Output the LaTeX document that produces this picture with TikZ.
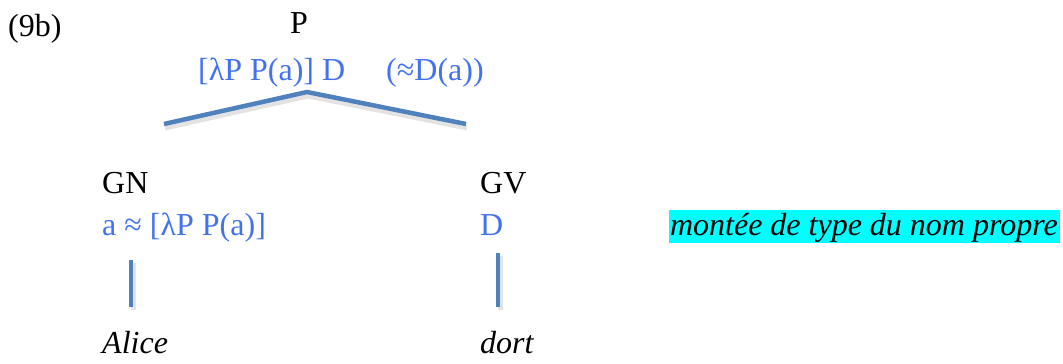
\documentclass[tikz,border=0pt]{standalone}
\usepackage{fontspec}
\setmainfont{Liberation Serif}
\definecolor{sem}{RGB}{66,114,240}
\definecolor{branch}{RGB}{79,129,189}
\definecolor{hl}{RGB}{0,255,255}
\begin{document}
\begin{tikzpicture}[x=1pt,y=-1pt,
  lab/.style={anchor=base west,inner sep=0pt,font=\fontsize{32}{38}\selectfont},
  semtxt/.style={lab,text=sem},
  branchline/.style={draw=branch,line width=4.5pt},
  shade/.style={draw=black!18,line width=5pt,opacity=0.6}]
\useasboundingbox (0,0) rectangle (1063,364);
\node[lab] (ex) at (8,36) {(9b)};
\node[lab,anchor=base] (P) at (299,34) {P};
\node[semtxt] (Psem) at (198,80) {[λP P(a)] D\hspace{41pt}(≈D(a))};
\coordinate (top) at (307,92);
\coordinate (lend) at (164,124);
\coordinate (rend) at (466,124);
\node[lab] (GN) at (102,193) {GN};
\node[semtxt] (GNsem) at (102,235) {a ≈ [λP P(a)]};
\node[lab] (GV) at (480,193) {GV};
\node[semtxt] (GVsem) at (480,235) {D};
\coordinate (la) at (131,260);
\coordinate (lb) at (131,307);
\coordinate (ra) at (498,253);
\coordinate (rb) at (498,307);
\node[lab] (alice) at (102,353) {\itshape Alice};
\node[lab] (dort) at (480,353) {\itshape dort};
\fill[hl] (669,210) rectangle (1060,243);
\node[lab,anchor=base east] (note) at (1058,235) {\itshape montée de type du nom propre};
% shadows
\draw[shade] ([shift={(1,4)}]lend) -- ([shift={(1,4)}]top) -- ([shift={(1,4)}]rend);
\draw[shade] ([shift={(2,3)}]la) -- ([shift={(2,3)}]lb);
\draw[shade] ([shift={(2,3)}]ra) -- ([shift={(2,3)}]rb);
% branches
\draw[branchline] (lend) -- (top) -- (rend);
\draw[branchline] (la) -- (lb);
\draw[branchline] (ra) -- (rb);
\end{tikzpicture}
\end{document}
